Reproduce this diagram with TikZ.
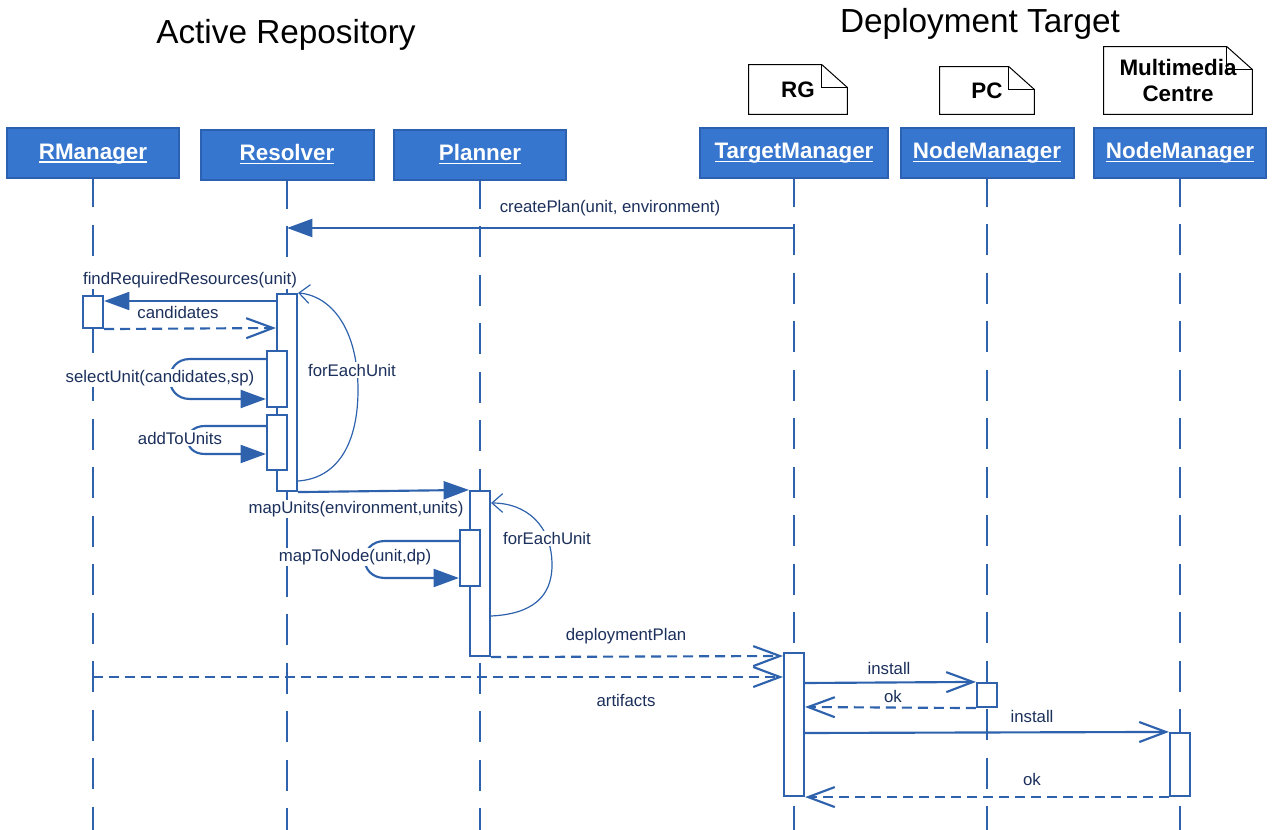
\documentclass[tikz,border=0pt]{standalone}
\usepackage{fontspec}
\setmainfont{Liberation Sans}
\usetikzlibrary{arrows.meta}
\definecolor{lineblue}{RGB}{46,98,172}
\definecolor{boxblue}{RGB}{54,118,206}
\definecolor{boxedge}{RGB}{44,96,176}
\definecolor{msgtext}{RGB}{28,48,92}
% underline placed just below the baseline
\newcommand\hdrul[1]{\setbox0\hbox{#1}\rlap{\rule[-2.6pt]{\wd0}{1.1pt}}\box0}
\begin{document}
\begin{tikzpicture}[x=0.75pt,y=-0.75pt,
  hdr/.style={rectangle, fill=boxblue, draw=boxedge, line width=1.5pt,
    minimum height=37.5pt, text=white, inner sep=0pt,
    font=\fontsize{16.8}{18}\selectfont\bfseries, text height=12pt, text depth=3pt},
  life/.style={draw=lineblue, line width=1.6pt,
    dash pattern=on 23.25pt off 13.1pt, dash phase=2.25pt},
  act/.style={rectangle, draw=lineblue, fill=white, line width=1.6pt,
    minimum width=15pt, inner sep=0pt},
  sync/.style={draw=lineblue, line width=1.6pt, -{Triangle[length=19pt,width=13.5pt]}},
  call/.style={draw=lineblue, line width=1.6pt, -{Straight Barb[length=20pt,width=15pt]}},
  reply/.style={draw=lineblue, line width=1.6pt, dash pattern=on 7.5pt off 4.5pt,
    -{Straight Barb[length=20pt,width=15pt]}},
  loopback/.style={draw=lineblue, line width=0.9pt, -{Straight Barb[length=8pt,width=14pt]}},
  lbl/.style={font=\fontsize{12.6}{14}\selectfont, text=msgtext, fill=white, inner sep=1pt},
  title/.style={font=\fontsize{25}{30}\selectfont, text=black},
  notetxt/.style={font=\fontsize{16.8}{20}\selectfont\bfseries, text=black, align=center, inner sep=0pt},
  noteline/.style={draw=black, line width=0.75pt}
]
\useasboundingbox (0,0) rectangle (1277,830);

% group titles
\node[title] (tAR) at (286,35) {Active Repository};
\node[title] (tDT) at (980,24) {Deployment Target};

% deployment notes
\node[notetxt, minimum width=73.5pt, minimum height=36.75pt] (nRG) at (798,89.5) {RG};
\node[notetxt, minimum width=70.5pt, minimum height=35.25pt] (nPC) at (987,90.5) {PC};
\node[notetxt, minimum width=111pt, minimum height=50.25pt] (nMC) at (1178,80.5) {Multimedia\\[-1pt]Centre};
\foreach \n in {nRG,nPC,nMC}{
  \draw[noteline] (\n.north west) -- ([xshift=-19pt]\n.north east)
    -- ([yshift=-17pt]\n.north east) -- (\n.south east) -- (\n.south west) -- cycle;
  \draw[noteline] ([xshift=-19pt]\n.north east) |- ([yshift=-17pt]\n.north east);
}

% object headers
\node[hdr, minimum width=129pt] (rm) at (93,153.5) {\hdrul{RManager}};
\node[hdr, minimum width=129.75pt] (rs) at (287,155) {\hdrul{Resolver}};
\node[hdr, minimum width=129pt] (pl) at (480,155) {\hdrul{Planner}};
\node[hdr, minimum width=141pt] (tm) at (794,153) {\hdrul{TargetManager}};
\node[hdr, minimum width=129.75pt] (nm1) at (987,153) {\hdrul{NodeManager}};
\node[hdr, minimum width=129pt] (nm2) at (1180,153) {\hdrul{NodeManager}};

% lifelines
\foreach \h in {rm,rs,pl,tm,nm1,nm2}
  \draw[life] (\h.south) -- (\h.south |- 0,830);

% activations
\node[act, minimum height=24pt] (aRM) at (93,312) {};
\node[act, minimum height=147.75pt] (aRS) at (287,392.5) {};
\node[act, minimum height=42pt] (aSel) at (277,379) {};
\node[act, minimum height=41.25pt] (aAdd) at (277,442.5) {};
\node[act, minimum height=123.75pt] (aPL) at (480,573.5) {};
\node[act, minimum height=42pt] (aMap) at (470,558) {};
\node[act, minimum height=107.25pt] (aTM) at (794,724.5) {};
\node[act, minimum height=18pt] (aN1) at (987,695) {};
\node[act, minimum height=47.25pt] (aN2) at (1180,764.5) {};

% messages
\draw[sync] (tm.south |- 0,228) -- (rs.south |- 0,228);
\node[lbl] (lCreate) at (610,208) {createPlan(unit, environment)};

\draw[sync] (aRS.west |- 0,301) -- (aRM.east |- 0,301);
\node[lbl] (lFind) at (190,280) {findRequiredResources(unit)};

\draw[reply] (aRM.south east) -- (aRS.west |- 0,328);
\node[lbl] (lCand) at (178,312) {candidates};

\draw[sync] (aSel.west |- 0,359) -- (190,359) .. controls (163,359) and (163,399) .. (190,399) -- (aSel.west |- 0,399);
\node[lbl] (lSel) at (160,378) {selectUnit(candidates,sp)};

\draw[sync] (aAdd.west |- 0,426) -- (205,426) .. controls (182,426) and (182,454) .. (205,454) -- (aAdd.west |- 0,454);
\node[lbl] (lAdd) at (180,438) {addToUnits};

\draw[loopback] (aRS.east |- 0,481) .. controls (340,478) and (358,440) .. (358,390) .. controls (358,330) and (332,296) .. (aRS.north east);
\node[lbl] (lLoop1) at (352,370) {forEachUnit};

\draw[sync] (aRS.south east) -- (aPL.north west);
\node[lbl] (lMapU) at (356,509) {mapUnits(environment,units)};

\draw[sync] (aMap.west |- 0,541) -- (385,541) .. controls (358,541) and (358,578) .. (385,578) -- (aMap.west |- 0,578);
\node[lbl] (lMapN) at (355,557) {mapToNode(unit,dp)};

\draw[loopback] (aPL.east |- 0,616) .. controls (532,614) and (552,597) .. (552,565) .. controls (552,525) and (526,503) .. (aPL.east |- 0,503);
\node[lbl] (lLoop2) at (547,538) {forEachUnit};

\draw[reply] (aPL.south east) -- (aTM.west |- 0,656);
\node[lbl] (lPlan) at (626,636) {deploymentPlan};

\draw[reply] (rm.south |- 0,677) -- (aTM.west |- 0,677);
\node[lbl] (lArt) at (626,700) {artifacts};

\draw[call] (aTM.east |- 0,683) -- (aN1.north west);
\node[lbl] (lInst1) at (889,668) {install};

\draw[reply] (aN1.south west) -- (aTM.east |- 0,707);
\node[lbl] (lOk1) at (893,696) {ok};

\draw[call] (aTM.east |- 0,733) -- (aN2.north west);
\node[lbl] (lInst2) at (1032,716) {install};

\draw[reply] (aN2.south west) -- (aTM.south east);
\node[lbl] (lOk2) at (1032,779) {ok};
\end{tikzpicture}
\end{document}
